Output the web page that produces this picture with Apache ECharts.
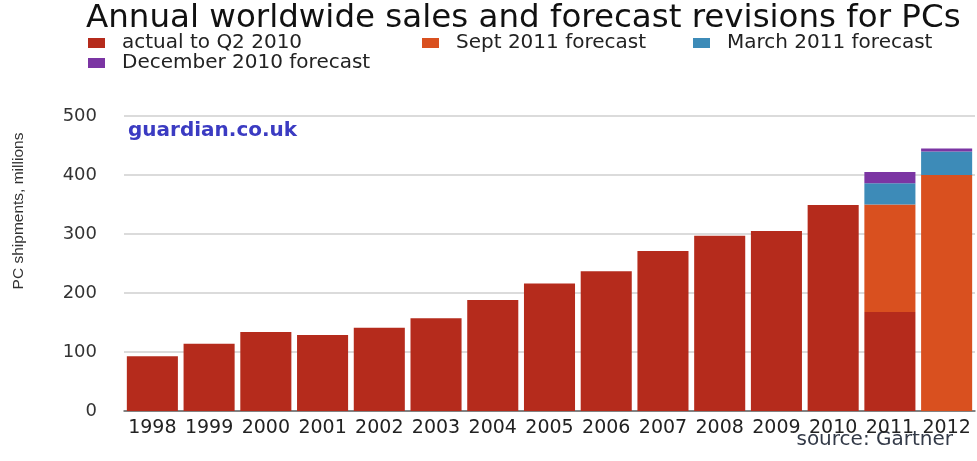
<!DOCTYPE html>
<html>
<head>
<meta charset="utf-8">
<script src="https://cdn.jsdelivr.net/npm/echarts@6/dist/echarts.min.js"></script>
<style>
html,body{margin:0;padding:0;background:#fff;}
#chart{width:977px;height:461px;}
</style>
</head>
<body>
<div id="chart"></div>
<script>
const years = ['1998','1999','2000','2001','2002','2003','2004','2005','2006','2007','2008','2009','2010','2011','2012'];
const actual = [93,114,134,129,141,157,188,216,237,271,297,305,349,168,null];
const sept2011 = [null,null,null,null,null,null,null,null,null,null,null,null,null,182,400];
const march2011 = [null,null,null,null,null,null,null,null,null,null,null,null,null,36,40];
const dec2010 = [null,null,null,null,null,null,null,null,null,null,null,null,null,19,5];
const yTicks = [0,100,200,300,400,500];

const seriesNames = ['actual to Q2 2010','Sept 2011 forecast','March 2011 forecast','December 2010 forecast'];
const colors = ['#b52b1c','#d9501f','#3d8bb8','#7b35a3'];
const F = 'DejaVu Sans';

const chart = echarts.init(document.getElementById('chart'));

function legendAt(name, left, top) {
  return {
    data: [name], left: left, top: top, orient: 'horizontal',
    icon: 'rect', itemWidth: 17, itemHeight: 10, padding: 0,
    selectedMode: false,
    textStyle: {fontFamily: F, fontSize: 20, color: '#222', padding: [0,0,0,12]}
  };
}

const option = {
  backgroundColor: '#fff',
  animation: false,
  color: colors,
  title: {
    text: 'Annual worldwide sales and forecast revisions for PCs',
    left: 86, top: 2, padding: 0,
    textStyle: {fontFamily: F, fontSize: 32.5, fontWeight: 'normal', color: '#111'}
  },
  legend: [
    legendAt(seriesNames[0], 88, 33),
    legendAt(seriesNames[1], 422, 33),
    legendAt(seriesNames[2], 693, 33),
    legendAt(seriesNames[3], 88, 53)
  ],
  grid: {left: 124, right: 2, top: 116, bottom: 50, containLabel: false},
  xAxis: {
    type: 'category', data: years,
    axisLine: {lineStyle: {color: '#666', width: 1.5}},
    axisTick: {show: false},
    axisLabel: {fontFamily: F, fontSize: 19, color: '#222', margin: 8, interval: 0}
  },
  yAxis: {
    type: 'value', min: 0, max: 500, interval: 100,
    axisLine: {show: false}, axisTick: {show: false},
    splitLine: {lineStyle: {color: '#cfcfcf', width: 1.5}},
    axisLabel: {fontFamily: F, fontSize: 18, color: '#333', margin: 27,
      formatter: v => yTicks.includes(v) ? String(v) : ''}
  },
  graphic: [
    {type: 'text', left: 128, top: 121,
      style: {text: 'guardian.co.uk', font: 'bold 20px "DejaVu Sans"', fill: '#3b3bc2'}},
    {type: 'text', right: 24, top: 430,
      style: {text: 'source: Gartner', font: '20px "DejaVu Sans"', fill: '#333a48'}},
    {type: 'text', x: 19, y: 211, rotation: Math.PI/2,
      style: {text: 'PC shipments, millions', font: '15.5px "Liberation Sans"', fill: '#333',
        align: 'center', verticalAlign: 'middle'}}
  ],
  series: [
    {name: seriesNames[0], type: 'bar', stack: 'pc', data: actual, barCategoryGap: '10%'},
    {name: seriesNames[1], type: 'bar', stack: 'pc', data: sept2011},
    {name: seriesNames[2], type: 'bar', stack: 'pc', data: march2011},
    {name: seriesNames[3], type: 'bar', stack: 'pc', data: dec2010}
  ]
};
chart.setOption(option);
</script>
</body>
</html>
